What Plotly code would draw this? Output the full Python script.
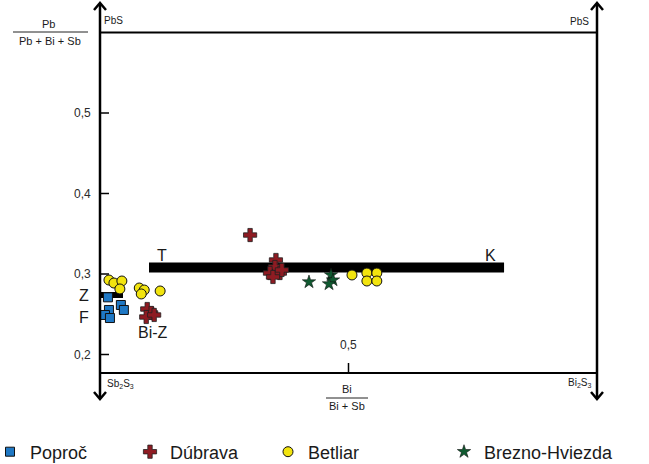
import plotly.graph_objects as go

# ---------------- data ----------------
poproc_x = [0.016, 0.042, 0.048, 0.018, 0.010, 0.020]
poproc_y = [0.271, 0.2615, 0.2553, 0.2553, 0.2491, 0.2453]

dubrava_x = [0.095, 0.103, 0.093, 0.109, 0.302, 0.354, 0.352, 0.342, 0.362, 0.348, 0.366]
dubrava_y = [0.2565, 0.2516, 0.2466, 0.2491, 0.3484, 0.3174, 0.3087, 0.3012, 0.3012, 0.2963, 0.3050]

betliar_x = [0.018, 0.028, 0.044, 0.040, 0.079, 0.089, 0.083, 0.121, 0.507, 0.537, 0.557, 0.537, 0.557]
betliar_y = [0.2925, 0.2888, 0.2913, 0.2814, 0.2826, 0.2801, 0.2752, 0.2789, 0.2988, 0.3012, 0.3012, 0.2913, 0.2913]

brezno_x = [0.4205, 0.4648, 0.4688, 0.4608]
brezno_y = [0.2901, 0.2988, 0.2925, 0.2876]

y_ticks = [0.2, 0.3, 0.4, 0.5]
y_tick_labels = ["0,2", "0,3", "0,4", "0,5"]
x_ticks = [0.5]
x_tick_labels = ["0,5"]

tk_line = [0.0986, 0.813, 0.308]   # x0, x1, y
z_line = [0.0, 0.0463, 0.2739]

# ---------------- layout helpers (pixel -> data) ----------------
def dx(px):
    return (px - 100) / 497.0

def dy(py):
    return 0.3 + (274 - py) / 805.0

FONT = "Arial, Liberation Sans, sans-serif"
TXT = "#1a1a1a"

fig = go.Figure()

fig.add_trace(go.Scatter(x=poproc_x, y=poproc_y, mode="markers", name="Poproč",
                         marker=dict(symbol="square", size=9, color="#1f78c4",
                                     line=dict(color="#111", width=1)),
                         legend="legend"))
fig.add_trace(go.Scatter(x=dubrava_x, y=dubrava_y, mode="markers", name="Dúbrava",
                         marker=dict(symbol="cross", size=11, color="#8e1b22",
                                     line=dict(color="#222", width=0.8)),
                         legend="legend2"))
fig.add_trace(go.Scatter(x=betliar_x, y=betliar_y, mode="markers", name="Betliar",
                         marker=dict(symbol="circle", size=10, color="#f2e40f",
                                     line=dict(color="#111", width=1)),
                         legend="legend3"))
fig.add_trace(go.Scatter(x=brezno_x, y=brezno_y, mode="markers", name="Brezno-Hviezda",
                         marker=dict(symbol="star", size=10, color="#0f5a30",
                                     line=dict(color="#111", width=0.6)),
                         legend="legend4"))

shapes = []
LW = 2.5
# vertical frame lines with chevron arrowheads at both ends
for xp in [100, 597]:
    shapes.append(dict(type="line", x0=dx(xp), x1=dx(xp), y0=dy(4), y1=dy(398),
                       line=dict(color="black", width=LW)))
    for tip, d in [(3, 1), (399, -1)]:
        path = "M %f,%f L %f,%f L %f,%f" % (dx(xp - 6), dy(tip + d * 7), dx(xp), dy(tip),
                                            dx(xp + 6), dy(tip + d * 7))
        shapes.append(dict(type="path", path=path, line=dict(color="black", width=LW)))
# top and bottom horizontal frame lines
shapes.append(dict(type="line", x0=0, x1=1, y0=0.6, y1=0.6, line=dict(color="black", width=2)))
shapes.append(dict(type="line", x0=0, x1=1, y0=dy(373), y1=dy(373), line=dict(color="black", width=2)))
# y ticks
for t in y_ticks:
    shapes.append(dict(type="line", x0=0, x1=dx(109), y0=t, y1=t, line=dict(color="black", width=1.5)))
# x ticks
for t in x_ticks:
    shapes.append(dict(type="line", x0=t, x1=t, y0=dy(373), y1=dy(363), line=dict(color="black", width=1.5)))
# T-K line and Z line
shapes.append(dict(type="line", x0=tk_line[0], x1=tk_line[1], y0=tk_line[2], y1=tk_line[2],
                   line=dict(color="black", width=10), layer="below"))
shapes.append(dict(type="line", x0=z_line[0], x1=z_line[1], y0=z_line[2], y1=z_line[2],
                   line=dict(color="black", width=6), layer="below"))
# fraction bars
shapes.append(dict(type="line", x0=dx(13), x1=dx(88), y0=dy(32), y1=dy(32), line=dict(color="#222", width=1)))
shapes.append(dict(type="line", x0=dx(326), x1=dx(368), y0=dy(398), y1=dy(398), line=dict(color="#222", width=1)))

ann = []
# tick labels
for t, lab in zip(y_ticks, y_tick_labels):
    ann.append(dict(x=dx(93), y=t, text=lab, showarrow=False, xanchor="right", yanchor="middle",
                    font=dict(family=FONT, size=12, color="#2a2a2a")))
for t, lab in zip(x_ticks, x_tick_labels):
    ann.append(dict(x=t, y=dy(345), text=lab, showarrow=False, xanchor="center", yanchor="middle",
                    font=dict(family=FONT, size=12, color="#2a2a2a")))
# corner labels
small = dict(family=FONT, size=10, color=TXT)
ann.append(dict(x=dx(102), y=dy(20), text="PbS", showarrow=False, xanchor="left", font=small))
ann.append(dict(x=dx(591), y=dy(21), text="PbS", showarrow=False, xanchor="right", font=small))
ann.append(dict(x=dx(105), y=dy(384), text="Sb<sub>2</sub>S<sub>3</sub>", showarrow=False, xanchor="left", font=small))
ann.append(dict(x=dx(593), y=dy(383), text="Bi<sub>2</sub>S<sub>3</sub>", showarrow=False, xanchor="right", font=small))
# axis titles (fractions)
ann.append(dict(x=dx(48), y=dy(24), text="Pb", showarrow=False, font=dict(family=FONT, size=11, color=TXT)))
ann.append(dict(x=dx(50), y=dy(41), text="Pb + Bi + Sb", showarrow=False, font=dict(family=FONT, size=11, color=TXT)))
ann.append(dict(x=dx(347), y=dy(389), text="Bi", showarrow=False, font=dict(family=FONT, size=11, color=TXT)))
ann.append(dict(x=dx(347), y=dy(406), text="Bi + Sb", showarrow=False, font=dict(family=FONT, size=11, color=TXT)))
# field labels
big = dict(family=FONT, size=16, color=TXT)
ann.append(dict(x=dx(84), y=dy(295), text="Z", showarrow=False, font=big))
ann.append(dict(x=dx(84), y=dy(317), text="F", showarrow=False, font=big))
ann.append(dict(x=dx(153), y=dy(332), text="Bi-Z", showarrow=False, font=big))
ann.append(dict(x=dx(161.5), y=dy(255), text="T", showarrow=False, font=big))
ann.append(dict(x=dx(490), y=dy(255), text="K", showarrow=False, font=big))

leg_common = dict(orientation="h", yanchor="middle", xanchor="left", y=1 - 452 / 464.0,
                  font=dict(family=FONT, size=18, color=TXT), bgcolor="rgba(0,0,0,0)",
                  borderwidth=0)
fig.update_layout(
    width=649, height=464,
    margin=dict(l=0, r=0, t=0, b=0, autoexpand=False),
    paper_bgcolor="white", plot_bgcolor="white",
    xaxis=dict(range=[dx(0), dx(649)], visible=False, fixedrange=True),
    yaxis=dict(range=[dy(464), dy(0)], visible=False, fixedrange=True),
    shapes=shapes, annotations=ann,
    showlegend=True,
    legend=dict(x=(15 - 25) / 649.0, **leg_common),
    legend2=dict(x=(155 - 25) / 649.0, **leg_common),
    legend3=dict(x=(293 - 25) / 649.0, **leg_common),
    legend4=dict(x=(469 - 25) / 649.0, **leg_common),
)

fig.write_html("out.html", config={"displayModeBar": False},
               post_script="document.body.style.margin='0';document.body.style.overflow='hidden';")
